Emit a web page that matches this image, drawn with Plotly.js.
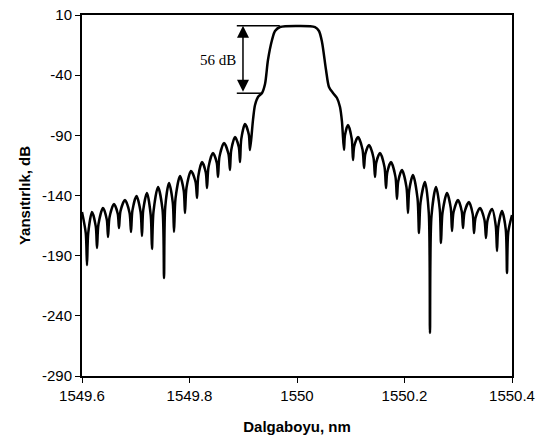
<!DOCTYPE html>
<html>
<head>
<meta charset="utf-8">
<script src="https://cdn.plot.ly/plotly-3.0.1.min.js"></script>
<style>html,body{margin:0;padding:0;background:#fff;}#chart{width:537px;height:441px;}</style>
</head>
<body>
<div id="chart"></div>
<script>
// Wavelength (nm) and reflectance (dB)
const wavelength = [
  1549.6000, 1549.6070, 1549.6093, 1549.6116, 1549.6186, 1549.6256, 1549.6279, 1549.6307,
  1549.6391, 1549.6461, 1549.6484, 1549.6512, 1549.6595, 1549.6665, 1549.6688, 1549.6716,
  1549.6800, 1549.6884, 1549.6912, 1549.6938, 1549.7014, 1549.7090, 1549.7116, 1549.7139,
  1549.7209, 1549.7279, 1549.7302, 1549.7330, 1549.7414, 1549.7498, 1549.7526, 1549.7549,
  1549.7619, 1549.7689, 1549.7712, 1549.7740, 1549.7823, 1549.7893, 1549.7916, 1549.7944,
  1549.8028, 1549.8112, 1549.8140, 1549.8163, 1549.8233, 1549.8303, 1549.8326, 1549.8354,
  1549.8437, 1549.8507, 1549.8530, 1549.8558, 1549.8642, 1549.8725, 1549.8753, 1549.8776,
  1549.8847, 1549.8917, 1549.8940, 1549.8963, 1549.9033, 1549.9103, 1549.9126,
  1549.9181, 1549.9219, 1549.9274, 1549.9349, 1549.9405, 1549.9460, 1549.9535, 1549.9591,
  1549.9684, 1550.0000, 1550.0335, 1550.0409, 1550.0465, 1550.0540, 1550.0595, 1550.0670,
  1550.0744, 1550.0800, 1550.0837,
  1550.0874, 1550.0893, 1550.0949, 1550.1019, 1550.1042, 1550.1065, 1550.1135, 1550.1219,
  1550.1247, 1550.1270, 1550.1340, 1550.1423, 1550.1451, 1550.1474, 1550.1544, 1550.1628,
  1550.1656, 1550.1679, 1550.1749, 1550.1832, 1550.1860, 1550.1883, 1550.1953, 1550.2037,
  1550.2065, 1550.2088, 1550.2158, 1550.2242, 1550.2270, 1550.2298, 1550.2381, 1550.2451,
  1550.2474, 1550.2502, 1550.2586, 1550.2656, 1550.2679, 1550.2707, 1550.2791, 1550.2861,
  1550.2884, 1550.2912, 1550.2995, 1550.3065, 1550.3088, 1550.3116, 1550.3200, 1550.3270,
  1550.3293, 1550.3321, 1550.3405, 1550.3488, 1550.3516, 1550.3544, 1550.3628, 1550.3698,
  1550.3721, 1550.3744, 1550.3814, 1550.3884, 1550.3907, 1550.3930, 1550.4000
];
const reflectance = [
  -153.7, -171.3, -197.8, -171.3, -153.7, -165.7, -183.6, -163.7,
  -150.4, -160.0, -174.5, -158.1, -147.1, -155.1, -167.0, -153.0,
  -143.7, -154.3, -170.3, -152.4, -140.4, -153.7, -173.7, -152.2,
  -137.9, -156.5, -184.5, -153.5, -132.9, -151.8, -208.6, -149.4,
  -129.6, -145.9, -170.3, -142.4, -123.8, -136.1, -154.5, -133.6,
  -119.6, -128.6, -142.1, -124.2, -112.2, -120.8, -133.8, -116.3,
  -104.7, -112.7, -124.6, -107.7, -96.4, -105.4, -118.8, -102.4,
  -91.4, -99.7, -112.2, -93.2, -80.6, -89.2, -102.2,
  -77.3, -64.8, -58.1, -54.8, -47.3, -27.4, -10.8, -3.3,
  0.0, 0.9, 0.0, -3.3, -12.4, -35.7, -49.8, -54.8,
  -59.0, -66.5, -78.9,
  -102.2, -89.7, -81.4, -93.0, -110.5, -99.0, -91.4, -101.7,
  -117.2, -105.7, -98.0, -108.6, -124.6, -112.7, -104.7, -116.3,
  -133.8, -120.8, -112.2, -124.5, -142.9, -128.4, -118.8, -133.1,
  -154.5, -135.6, -123.0, -142.3, -171.2, -145.8, -128.8, -153.9,
  -254.3, -157.2, -132.9, -151.5, -179.5, -154.5, -137.9, -150.5,
  -169.5, -154.0, -143.7, -153.0, -167.0, -154.0, -145.4, -155.7,
  -171.2, -158.7, -150.4, -160.4, -175.3, -160.8, -151.2, -165.2,
  -186.1, -166.2, -152.9, -168.3, -204.4, -170.7, -156.2
];
const xTicks = [1549.6, 1549.8, 1550, 1550.2, 1550.4];
const xTickText = ["1549.6", "1549.8", "1550", "1550.2", "1550.4"];
const yTicks = [10, -40, -90, -140, -190, -240, -290];
const yTickText = ["10", "-40", "-90", "-140", "-190", "-240", "-290"];
const topLevel = 1;
const shoulderLevel = -55;
const deltaLabel = "56 dB";

const trace = {
  x: wavelength, y: reflectance, type: 'scatter', mode: 'lines',
  line: {color: '#000', width: 2.5, shape: 'spline', smoothing: 0.8},
  hoverinfo: 'skip'
};

const layout = {
  width: 537, height: 441,
  margin: {l: 82, r: 25, t: 15, b: 65},
  paper_bgcolor: '#fff', plot_bgcolor: '#fff',
  showlegend: false,
  font: {family: 'Liberation Sans, Arial, sans-serif', color: '#000', size: 15},
  xaxis: {
    range: [1549.6, 1550.4], tickvals: xTicks, ticktext: xTickText,
    ticks: 'outside', ticklen: 5, tickwidth: 1, tickcolor: '#000',
    showline: true, linecolor: '#000', linewidth: 2, mirror: true,
    showgrid: false, zeroline: false,
    tickfont: {size: 15},
    title: {text: '<b>Dalgaboyu, nm</b>', font: {size: 15}, standoff: 18}
  },
  yaxis: {
    range: [-290, 10], tickvals: yTicks, ticktext: yTickText,
    ticks: 'outside', ticklen: 5, tickwidth: 1, tickcolor: '#000',
    showline: true, linecolor: '#000', linewidth: 2, mirror: true,
    showgrid: false, zeroline: false,
    tickfont: {size: 15},
    title: {text: '<b>Yansıtırlık, dB</b>', font: {size: 15}, standoff: 8}
  },
  shapes: [
    {type: 'line', xref: 'x', yref: 'y', x0: 1549.888, x1: 1549.968, y0: topLevel, y1: topLevel, line: {color: '#000', width: 1.5}},
    {type: 'line', xref: 'x', yref: 'y', x0: 1549.888, x1: 1549.935, y0: shoulderLevel, y1: shoulderLevel, line: {color: '#000', width: 1.5}}
  ],
  annotations: [
    {x: 1549.8995, y: topLevel, ax: 1549.8995, ay: shoulderLevel, xref: 'x', yref: 'y', axref: 'x', ayref: 'y',
     showarrow: true, arrowhead: 2, arrowside: 'end+start', arrowsize: 1.6, arrowwidth: 1.5, arrowcolor: '#000',
     standoff: 0, startstandoff: 0, text: ''},
    {x: 1549.853, y: -27.4, xref: 'x', yref: 'y', text: deltaLabel, showarrow: false,
     font: {family: 'Liberation Serif, Times New Roman, serif', size: 15, color: '#000'}}
  ]
};

Plotly.newPlot('chart', [trace], layout, {staticPlot: true, displayModeBar: false});
</script>
</body>
</html>
